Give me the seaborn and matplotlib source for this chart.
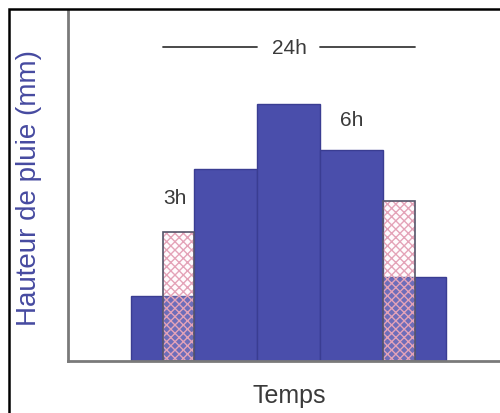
import matplotlib.pyplot as plt
import seaborn as sns
import numpy as np
from matplotlib.patches import Rectangle

# données du hyétogramme (hauteurs)
centres_3h = [3, 5, 7, 9, 11]
bords_3h = [2, 4, 6, 8, 10, 12]
hauteurs_3h = [65, 192, 257, 211, 84]

centres_hachures = [3.5, 10.5]
bords_hachures = [[3, 4], [10, 11]]
hauteurs_hachures = [129, 160]

bleu = '#4a4eab'
bleu_fonce = '#3a3d92'
rose = '#e4a3b8'
gris = '#3a3a3a'

sns.set_style('white')
plt.rcParams['font.family'] = ['Liberation Sans', 'DejaVu Sans']

fig = plt.figure(figsize=(5, 4.14), dpi=100)
ax = fig.add_axes([68 / 500, 52 / 414, 440 / 500, 350 / 414])

# barres principales
sns.histplot(x=centres_3h, weights=hauteurs_3h, bins=bords_3h, ax=ax,
             color=bleu, alpha=1, edgecolor=bleu_fonce, linewidth=1)

# barres hachurées par-dessus
for c, b, h in zip(centres_hachures, bords_hachures, hauteurs_hachures):
    sns.histplot(x=[c], weights=[h], bins=b, ax=ax, hatch='xxxx',
                 facecolor=(1, 0.93, 0.96, 0.2), edgecolor=rose, linewidth=0)
    sns.histplot(x=[c], weights=[h], bins=b, ax=ax, fill=False,
                 color='#55556a', linewidth=1.2)

ax.set_xlim(0, 440 / 31.5)
ax.set_ylim(0, 350)
ax.set_xticks([])
ax.set_yticks([])
for s in ['top', 'right']:
    ax.spines[s].set_visible(False)
for s in ['left', 'bottom']:
    ax.spines[s].set_color('#7a7a7a')
    ax.spines[s].set_linewidth(2)

# annotations
ax.plot([3, 6], [314, 314], color=gris, lw=1.3)
ax.plot([8, 11], [314, 314], color=gris, lw=1.3)
ax.text(7.02, 314, '24h', ha='center', va='center', fontsize=15, color=gris)
ax.text(9.02, 241, '6h', ha='center', va='center', fontsize=15, color=gris)
ax.text(3.4, 163, '3h', ha='center', va='center', fontsize=15, color=gris)

ax.set_xlabel('Temps', fontsize=18, color=gris)
ax.xaxis.set_label_coords((289 - 68) / 440, -(396 - 362) / 350)
ax.xaxis.label.set_va('center')
ax.set_ylabel('Hauteur de pluie (mm)', fontsize=20, color='#464aa0')
ax.yaxis.set_label_coords((29 - 68) / 440, (362 - 188) / 350)
ax.yaxis.label.set_va('center')

# cadre extérieur
fig.patches.append(Rectangle((9 / 500, -0.1), 1.2, 404 / 414 + 0.1,
                             transform=fig.transFigure, fill=False,
                             edgecolor='black', linewidth=1.8))

fig.savefig('out.png', dpi=100)
